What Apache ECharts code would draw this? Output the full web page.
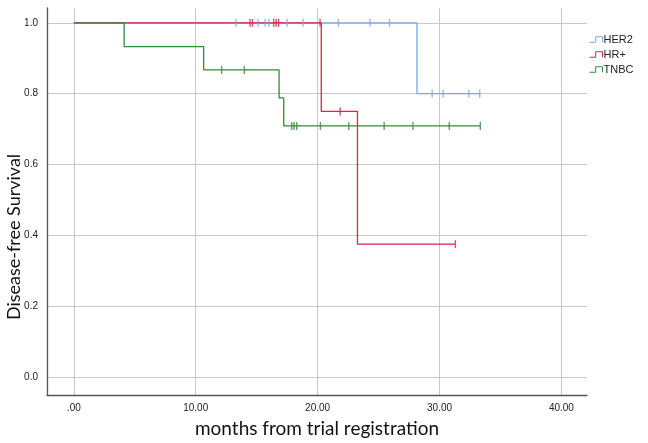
<!DOCTYPE html>
<html><head><meta charset="utf-8">
<script src="https://cdn.jsdelivr.net/npm/echarts@6/dist/echarts.min.js"></script>
<style>html,body{margin:0;padding:0;background:#fff}#c{width:648px;height:443px}</style>
</head><body><div id="c"></div>
<script>
// ---- data (months, survival proportion) ----
const groups = ['HER2', 'HR+', 'TNBC'];
const her2EventTimes = [0, 28.15];
const her2Survival   = [1.0, 0.8];
const her2Censored   = [13.3, 15.1, 15.7, 16.0, 17.5, 18.8, 21.7, 24.3, 25.9, 29.4, 30.3, 32.4, 33.3];
const hrEventTimes   = [0, 20.3, 23.27];
const hrSurvival     = [1.0, 0.75, 0.375];
const hrCensored     = [14.45, 14.65, 16.4, 16.6, 16.8, 20.2, 21.85, 31.3];
const tnbcEventTimes = [0, 4.13, 10.65, 16.84, 17.22];
const tnbcSurvival   = [1.0, 0.933, 0.867, 0.788, 0.709];
const tnbcCensored   = [12.13, 13.99, 17.88, 18.07, 18.29, 20.23, 22.56, 25.46, 27.82, 30.8, 33.35];
const yTicks = [0.0, 0.2, 0.4, 0.6, 0.8, 1.0];
const xTicks = [0, 10, 20, 30, 40];

const colors = { 'HER2': '#78a9e2', 'HR+': '#d8264e', 'TNBC': '#378a37' };

function survAt(times, surv, t) {
  let s = surv[0];
  for (let i = 0; i < times.length; i++) if (times[i] <= t) s = surv[i];
  return s;
}
function curve(times, surv, cens) {
  const pts = times.map((t, i) => [t, surv[i]]);
  const last = Math.max(...cens);
  pts.push([last, survAt(times, surv, last)]);
  return pts;
}
function marks(times, surv, cens) {
  return cens.map(t => [t, survAt(times, surv, t)]);
}
const sets = {
  'HER2': [her2EventTimes, her2Survival, her2Censored],
  'HR+':  [hrEventTimes, hrSurvival, hrCensored],
  'TNBC': [tnbcEventTimes, tnbcSurvival, tnbcCensored]
};

const series = [];
groups.forEach(g => {
  const [t, s, c] = sets[g];
  series.push({
    name: g, type: 'line', step: 'end', data: curve(t, s, c),
    symbol: 'none', lineStyle: { color: colors[g], width: 1.3 }, itemStyle: { color: colors[g] }
  });
});
groups.forEach(g => {
  const [t, s, c] = sets[g];
  series.push({
    name: g, type: 'scatter', data: marks(t, s, c),
    symbol: 'rect', symbolSize: [1.4, 8], itemStyle: { color: colors[g] }, z: 3
  });
});

const stepIcon = 'path://M0,9 L9,9 L9,1 L19,1 L19,9';
const chart = echarts.init(document.getElementById('c'), null, { renderer: 'canvas' });
chart.setOption({
  animation: false,
  backgroundColor: '#ffffff',
  grid: { left: 47, right: 61, top: 8, bottom: 48 },
  legend: {
    orient: 'vertical', left: 589, top: 34, padding: 0, itemGap: 4,
    itemWidth: 13, itemHeight: 9,
    data: groups.map(g => ({ name: g, icon: stepIcon,
      itemStyle: { color: 'rgba(0,0,0,0)', borderColor: colors[g], borderWidth: 1 } })),
    textStyle: { fontFamily: 'Liberation Sans', fontSize: 11, color: '#222', padding: [0, 0, 0, -4] }
  },
  xAxis: {
    type: 'value', min: -2.2, max: 42.1, minInterval: 10, maxInterval: 10,
    axisLine: { show: true, onZero: false, lineStyle: { color: '#555', width: 1.3 } },
    axisTick: { show: false },
    axisLabel: { showMinLabel: false, showMaxLabel: false, margin: 8,
      fontFamily: 'Liberation Sans', fontSize: 10, color: '#222',
      formatter: v => (xTicks.includes(v) ? (v === 0 ? '.00' : v.toFixed(2)) : '') },
    splitLine: { show: true, showMinLine: false, showMaxLine: false, lineStyle: { color: '#c8c8c8', width: 1 } },
    name: 'months from trial registration', nameLocation: 'middle', nameGap: 24,
    nameTextStyle: { fontFamily: 'Lato', fontSize: 19, color: '#111' }
  },
  yAxis: {
    type: 'value', min: -0.051, max: 1.042, minInterval: 0.2, maxInterval: 0.2,
    axisLine: { show: true, onZero: false, lineStyle: { color: '#555', width: 1.3 } },
    axisTick: { show: false },
    axisLabel: { showMinLabel: false, showMaxLabel: false, margin: 9,
      fontFamily: 'Liberation Sans', fontSize: 10, color: '#222',
      formatter: v => (yTicks.some(y => Math.abs(y - v) < 1e-9) ? v.toFixed(1) : '') },
    splitLine: { show: true, showMinLine: false, showMaxLine: false, lineStyle: { color: '#c8c8c8', width: 1 } }
  },
  graphic: [{
    type: 'text', x: 14, y: 237, rotation: Math.PI / 2,
    style: { text: 'Disease-free Survival', font: '18px Lato', fill: '#111',
      align: 'center', verticalAlign: 'middle' }
  }],
  series: series
});
</script></body></html>
